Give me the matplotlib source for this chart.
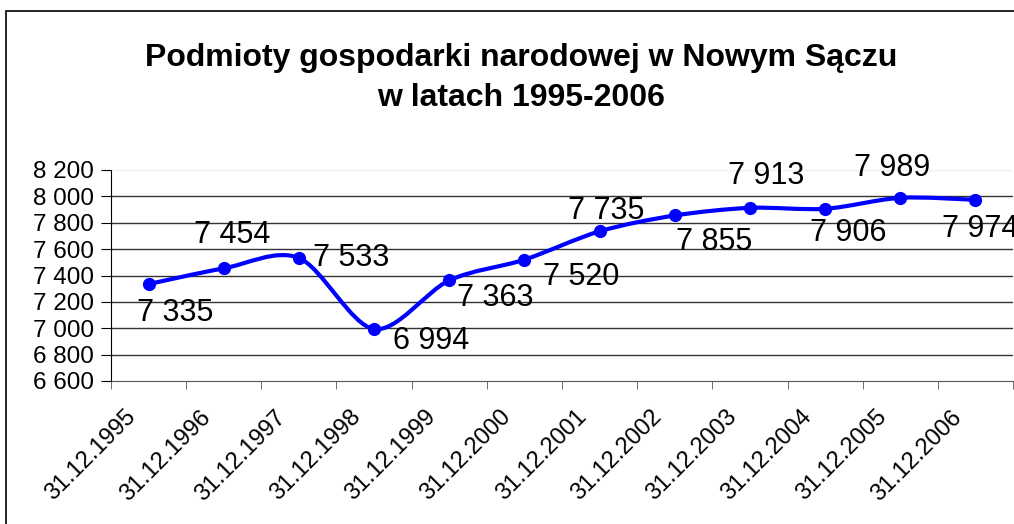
import matplotlib
matplotlib.use("Agg")
import matplotlib.pyplot as plt
import matplotlib.transforms as mtransforms
from matplotlib.path import Path
from matplotlib.patches import PathPatch, Rectangle
import numpy as np

plt.rcParams["font.family"] = ["Liberation Sans", "DejaVu Sans"]

# Data
years = ["31.12.1995", "31.12.1996", "31.12.1997", "31.12.1998", "31.12.1999",
         "31.12.2000", "31.12.2001", "31.12.2002", "31.12.2003", "31.12.2004",
         "31.12.2005", "31.12.2006"]
values = [7335, 7454, 7533, 6994, 7363, 7520, 7735, 7855, 7913, 7906, 7989, 7974]
y_ticks = [6600, 6800, 7000, 7200, 7400, 7600, 7800, 8000, 8200]

# label offsets (pixels, x right / y down) for each data label
label_offsets = [(27, 29), (8, -33), (52, 0), (57, 12), (46, 18), (57, 17),
                 (7, -20), (39, 27), (16, -32), (23, 24), (-8, -30), (5, 29)]

W, H = 1014, 524
fig = plt.figure(figsize=(W / 100, H / 100), dpi=100)
ax = fig.add_axes([111 / W, 1 - 381 / H, 902 / W, 211 / H])

x = np.arange(len(values))
y = np.array(values, dtype=float)

# smoothed line (bezier like Excel "smoothed line")
tension = 1 / 6.5
verts = [(x[0], y[0])]
codes = [Path.MOVETO]
n = len(x)
for i in range(n - 1):
    p0 = (x[max(i - 1, 0)], y[max(i - 1, 0)])
    p1 = (x[i], y[i])
    p2 = (x[i + 1], y[i + 1])
    p3 = (x[min(i + 2, n - 1)], y[min(i + 2, n - 1)])
    c1 = (p1[0] + (p2[0] - p0[0]) * tension, p1[1] + (p2[1] - p0[1]) * tension)
    c2 = (p2[0] - (p3[0] - p1[0]) * tension, p2[1] - (p3[1] - p1[1]) * tension)
    verts += [c1, c2, p2]
    codes += [Path.CURVE4] * 3
ax.add_patch(PathPatch(Path(verts, codes), facecolor="none", edgecolor="#0000FF",
                       linewidth=3, capstyle="round", joinstyle="round", zorder=3))
ax.plot(x, y, linestyle="none", marker="o", markersize=8.5, color="#0000FF", zorder=4)

# data labels
for xi, yi, v, (dx, dy) in zip(x, y, values, label_offsets):
    txt = f"{v:,}".replace(",", " ")
    ax.annotate(txt, (xi, yi), xytext=(dx * 0.72, -dy * 0.72), textcoords="offset points",
                ha="center", va="center", fontsize=22, color="black",
                annotation_clip=False, zorder=5)

ax.set_xlim(-0.5, n - 0.5)
ax.set_ylim(6600, 8200)
ax.set_yticks(y_ticks)
ax.set_yticklabels([f"{t:,}".replace(",", " ") for t in y_ticks], fontsize=17.5)

# horizontal gridlines
for t in y_ticks[1:-1]:
    ax.axhline(t, color="#333333", linewidth=1.0, zorder=1)
ax.axhline(8200, color="#eeeeee", linewidth=1.0, zorder=1)

ax.set_xticks(x)
ax.set_xticklabels(years, rotation=45, ha="right", va="top", fontsize=17)
ax.set_xticks(np.arange(-0.5, n, 1.0), minor=True)
ax.tick_params(axis="x", which="major", length=0, pad=18)
ax.tick_params(axis="x", which="minor", length=6, color="#555555", direction="out")
ax.tick_params(axis="y", length=7, direction="out", pad=5)
shift = mtransforms.ScaledTranslation(-9 / 100, 0, fig.dpi_scale_trans)
for lab in ax.get_xticklabels():
    lab.set_transform(lab.get_transform() + shift)

for s in ["top", "right"]:
    ax.spines[s].set_visible(False)
ax.spines["left"].set_color("black")
ax.spines["bottom"].set_color("#555555")
ax.spines["bottom"].set_zorder(2)

fig.text(521 / W, 1 - 78 / H, "Podmioty gospodarki narodowej w Nowym Sączu\nw latach 1995-2006",
         ha="center", va="center", fontsize=23, fontweight="bold", linespacing=1.42)

# chart frame
fig.patches.append(Rectangle((6 / W, -0.05), 1.1, (H - 11) / H + 0.05,
                             transform=fig.transFigure, fill=False,
                             edgecolor="black", linewidth=1.2))

fig.savefig("out.png", dpi=100)
